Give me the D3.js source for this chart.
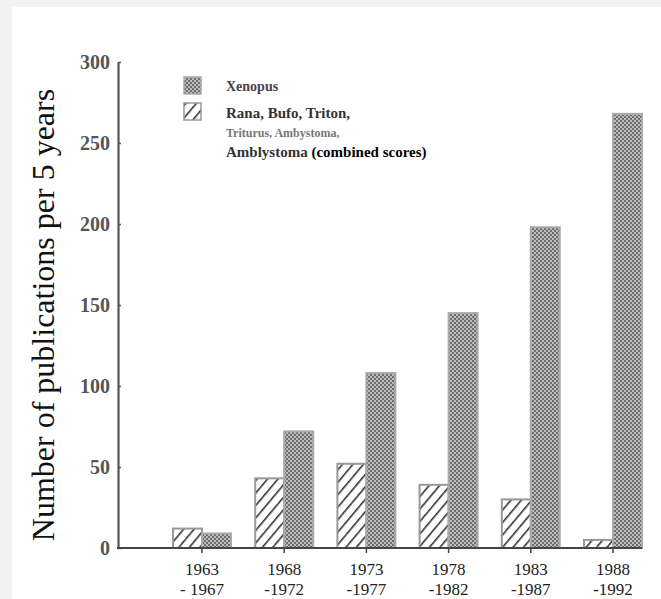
<!DOCTYPE html>
<html lang="en">
<head>
<meta charset="UTF-8">
<title>Publications per 5 years</title>
<script src="https://d3js.org/d3.v7.min.js"></script>
<style>
  body { margin: 0; background: #f2f2f2; }
  svg { display: block; }
  text { font-family: "Liberation Serif", "Times New Roman", serif; fill: #222; }
  .axis path, .axis line { stroke: #555; }
</style>
</head>
<body>
<script>
const periods = ["1963-1967", "1968-1972", "1973-1977", "1978-1982", "1983-1987", "1988-1992"];
const periodLines = [["1963", "- 1967"], ["1968", "-1972"], ["1973", "-1977"], ["1978", "-1982"], ["1983", "-1987"], ["1988", "-1992"]];
const xenopus = [9, 72, 108, 145, 198, 268];
const others = [12, 43, 52, 39, 30, 5];
const yTicks = [0, 50, 100, 150, 200, 250, 300];

const width = 661, height = 599;

const svg = d3.select("body").append("svg")
  .attr("width", width)
  .attr("height", height);

svg.append("rect")
  .attr("x", 12).attr("y", 7)
  .attr("width", width - 12).attr("height", height - 7)
  .attr("fill", "#fff");

const defs = svg.append("defs");

// checkered fill for Xenopus
const chk = defs.append("pattern")
  .attr("id", "chk")
  .attr("patternUnits", "userSpaceOnUse")
  .attr("width", 4).attr("height", 4);
chk.append("rect").attr("width", 4).attr("height", 4).attr("fill", "#bcbcbc");
chk.append("rect").attr("width", 2).attr("height", 2).attr("fill", "#6e6e6e");
chk.append("rect").attr("x", 2).attr("y", 2).attr("width", 2).attr("height", 2).attr("fill", "#6e6e6e");

// diagonal hatching for the other genera
const hatch = defs.append("pattern")
  .attr("id", "hatch")
  .attr("patternUnits", "userSpaceOnUse")
  .attr("width", 8).attr("height", 8)
  .attr("patternTransform", "rotate(40)");
hatch.append("rect").attr("width", 8).attr("height", 8).attr("fill", "#fff");
hatch.append("line")
  .attr("x1", 0).attr("y1", 0).attr("x2", 0).attr("y2", 8)
  .attr("stroke", "#333").attr("stroke-width", 3.2);

const x = d3.scalePoint()
  .domain(periods)
  .range([202, 613]);

const y = d3.scaleLinear()
  .domain([0, 300])
  .range([548, 62]);

const barW = 29;

// y axis
const yAxis = svg.append("g")
  .attr("class", "axis")
  .attr("transform", "translate(118,0)")
  .call(d3.axisLeft(y).tickValues(yTicks).tickSize(3).tickSizeOuter(0).tickPadding(5));
yAxis.select(".domain").attr("stroke-width", 2.2);
yAxis.selectAll(".tick line").attr("x2", 3).attr("stroke-width", 1.5);
yAxis.selectAll(".tick text")
  .style("font-size", "20px")
  .style("font-weight", "bold")
  .style("fill", "#555");

// bars
const groups = svg.selectAll(".grp")
  .data(periods)
  .enter().append("g")
  .attr("class", "grp");

groups.append("rect")
  .attr("x", d => x(d) - barW)
  .attr("y", (d, i) => y(others[i]))
  .attr("width", barW)
  .attr("height", (d, i) => y(0) - y(others[i]))
  .attr("fill", "url(#hatch)")
  .attr("stroke", "#999")
  .attr("stroke-width", 2);

groups.append("rect")
  .attr("x", d => x(d))
  .attr("y", (d, i) => y(xenopus[i]))
  .attr("width", barW)
  .attr("height", (d, i) => y(0) - y(xenopus[i]))
  .attr("fill", "url(#chk)")
  .attr("stroke", "#aaa")
  .attr("stroke-width", 2);

// x axis
svg.append("line")
  .attr("x1", 117).attr("x2", x(periods[5]) + barW)
  .attr("y1", y(0)).attr("y2", y(0))
  .attr("stroke", "#444").attr("stroke-width", 2.2);

groups.append("line")
  .attr("x1", d => x(d)).attr("x2", d => x(d))
  .attr("y1", y(0)).attr("y2", y(0) + 5)
  .attr("stroke", "#444").attr("stroke-width", 1.5);

groups.append("text")
  .attr("x", d => x(d)).attr("y", 575)
  .attr("text-anchor", "middle")
  .style("font-size", "17px")
  .style("fill", "#222")
  .text((d, i) => periodLines[i][0]);
groups.append("text")
  .attr("x", d => x(d)).attr("y", 595)
  .attr("text-anchor", "middle")
  .style("font-size", "17px")
  .style("fill", "#222")
  .text((d, i) => periodLines[i][1]);

// y axis title
svg.append("text")
  .attr("transform", "translate(54,315) rotate(-90)")
  .attr("text-anchor", "middle")
  .style("font-size", "32px")
  .style("fill", "#111")
  .text("Number of publications per 5 years");

// legend
svg.append("rect")
  .attr("x", 184).attr("y", 77).attr("width", 17).attr("height", 17)
  .attr("fill", "url(#chk)").attr("stroke", "#aaa").attr("stroke-width", 1.5);
svg.append("rect")
  .attr("x", 184).attr("y", 103).attr("width", 17).attr("height", 17)
  .attr("fill", "url(#hatch)").attr("stroke", "#999").attr("stroke-width", 1.5);

svg.append("text")
  .attr("x", 226).attr("y", 91)
  .style("font-size", "14px").style("font-weight", "bold").style("fill", "#444")
  .text("Xenopus");
svg.append("text")
  .attr("x", 226).attr("y", 118)
  .style("font-size", "15px").style("font-weight", "bold").style("fill", "#333")
  .text("Rana, Bufo, Triton,");
svg.append("text")
  .attr("x", 226).attr("y", 137)
  .style("font-size", "12px").style("font-weight", "bold").style("fill", "#777")
  .text("Triturus, Ambystoma,");
const amb = svg.append("text")
  .attr("x", 226).attr("y", 157)
  .style("font-size", "15px").style("font-weight", "bold").style("fill", "#333");
amb.append("tspan").text("Amblystoma ");
amb.append("tspan")
  .style("font-size", "15px").style("fill", "#000")
  .text("(combined scores)");
</script>
</body>
</html>
